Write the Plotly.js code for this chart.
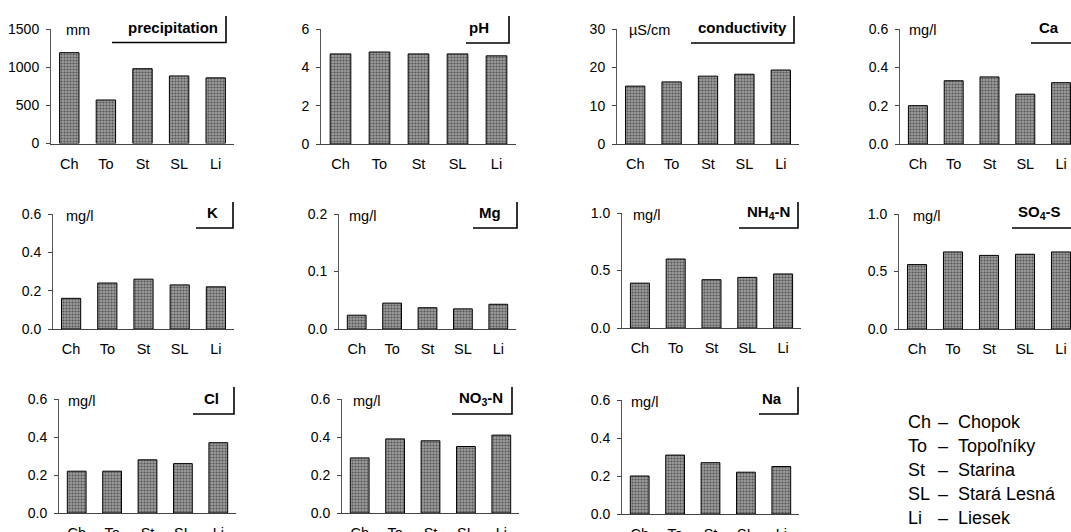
<!DOCTYPE html>
<html>
<head>
<meta charset="utf-8">
<script src="https://cdn.plot.ly/plotly-3.0.1.min.js"></script>
<style>
html, body { margin:0; padding:0; overflow:hidden; background:#fff; }
#wrap { width:1071px; height:532px; overflow:hidden; position:relative; }
#chart { width:1085px; height:545px; }
</style>
</head>
<body>
<div id="wrap"><div id="chart"></div></div>
<script>
// ---- data ----
const categories = ['Ch', 'To', 'St', 'SL', 'Li'];
const precipitation = [1190, 570, 980, 885, 860];
const pH = [4.7, 4.8, 4.7, 4.7, 4.6];
const conductivity = [15.1, 16.2, 17.7, 18.2, 19.3];
const Ca = [0.20, 0.33, 0.35, 0.26, 0.32];
const K = [0.16, 0.24, 0.26, 0.23, 0.22];
const Mg = [0.024, 0.045, 0.037, 0.035, 0.043];
const NH4N = [0.39, 0.60, 0.42, 0.44, 0.47];
const SO4S = [0.56, 0.67, 0.64, 0.65, 0.67];
const Cl = [0.22, 0.22, 0.28, 0.26, 0.37];
const NO3N = [0.29, 0.39, 0.38, 0.35, 0.41];
const Na = [0.20, 0.31, 0.27, 0.22, 0.25];
const seriesValues = [precipitation, pH, conductivity, Ca, K, Mg, NH4N, SO4S, Cl, NO3N, Na];
const panelTitles = ['precipitation', 'pH', 'conductivity', 'Ca', 'K', 'Mg', 'NH<sub>4</sub>-N', 'SO<sub>4</sub>-S', 'Cl', 'NO<sub>3</sub>-N', 'Na'];
const panelUnits = ['mm', '', 'µS/cm', 'mg/l', 'mg/l', 'mg/l', 'mg/l', 'mg/l', 'mg/l', 'mg/l', 'mg/l'];
const yTickValues = [
  [0, 500, 1000, 1500], [0, 2, 4, 6], [0, 10, 20, 30], [0, 0.2, 0.4, 0.6],
  [0, 0.2, 0.4, 0.6], [0, 0.1, 0.2], [0, 0.5, 1.0], [0, 0.5, 1.0],
  [0, 0.2, 0.4, 0.6], [0, 0.2, 0.4, 0.6], [0, 0.2, 0.4, 0.6]
];
const yTickFormats = ['d', 'd', 'd', '.1f', '.1f', '.1f', '.1f', '.1f', '.1f', '.1f', '.1f'];
const stationAbbr = ['Ch', 'To', 'St', 'SL', 'Li'];
const stationNames = ['Chopok', 'Topoľníky', 'Starina', 'Stará Lesná', 'Liesek'];

// ---- layout geometry (pixels) ----
const W = 1085, H = 545;
// [axisLeft, axisRight, topTickY, zeroY, unitShift, titleRight, bracketLeft, bracketX, bracketY, bracketTop, titleY]
const geom = [
  [51, 234, 29, 143.5, 13, 220, 112, 226, 42.5, 16, 27],
  [321, 516, 29, 144, 0, 491, 466, 509, 43, 16, 27.5],
  [617, 799, 29, 144, 10, 789, 691, 794, 43, 16, 27],
  [900, 1079, 29, 144, 7, 1061, 1031, 1076, 43, 16, 27.5],
  [53, 234, 214, 329, 11, 220, 196, 233, 228, 202, 212.5],
  [339, 516, 214, 329, 8, 503, 473, 517, 228, 202, 212.5],
  [622, 801, 213, 328, 9, 792, 739, 798, 228, 202, 212.5],
  [899, 1079, 214, 329, 12, 1063, 1012, 1076, 228, 202, 212.5],
  [59, 236, 399, 513, 7, 221, 193, 234, 414, 387, 398],
  [342, 519, 399, 513, 9, 505, 452, 512, 414, 387, 398.5],
  [622, 799, 400, 514, 7, 784, 759, 798, 414, 387, 398]
];
const FONT = 'Liberation Sans, Arial, sans-serif';
const px = v => v / W;
const py = v => 1 - v / H;

const traces = [];
const layout = {
  width: W, height: H,
  margin: {l: 0, r: 0, t: 0, b: 0},
  paper_bgcolor: '#ffffff', plot_bgcolor: 'rgba(0,0,0,0)',
  showlegend: false,
  bargap: 0.47,
  font: {family: FONT, color: '#000'},
  annotations: [], shapes: []
};

seriesValues.forEach((vals, i) => {
  const n = i + 1;
  const sx = n === 1 ? '' : String(n);
  const g = geom[i];
  traces.push({
    type: 'bar', x: categories, y: vals,
    xaxis: 'x' + sx, yaxis: 'y' + sx,
    marker: {
      color: '#8c8c8c',
      line: {color: '#000', width: 1},
      pattern: {shape: '.', fgcolor: '#555555', bgcolor: '#9c9c9c', size: 3, solidity: 0.4}
    },
    hoverinfo: 'x+y'
  });
  const ticks = yTickValues[i];
  layout['xaxis' + sx] = {
    domain: [px(g[0]), px(g[1])], anchor: 'y' + sx,
    type: 'category', range: [-0.5, 4.5],
    showline: true, linecolor: '#444', linewidth: 1,
    ticks: '', showgrid: false, zeroline: false,
    tickfont: {family: FONT, size: 14.5, color: '#000'},
    ticklabelstandoff: 7, fixedrange: true
  };
  layout['yaxis' + sx] = {
    domain: [py(g[3]), py(g[2])], anchor: 'x' + sx,
    range: [0, ticks[ticks.length - 1]],
    tickvals: ticks, tickformat: yTickFormats[i],
    showline: true, linecolor: '#555', linewidth: 1,
    ticks: 'outside', ticklen: 4, tickcolor: '#444', tickwidth: 1,
    showgrid: false, zeroline: false,
    tickfont: {family: FONT, size: 14, color: '#000'},
    ticklabelstandoff: 4, fixedrange: true
  };
  if (panelUnits[i]) {
    layout.annotations.push({
      xref: 'paper', yref: 'paper', x: px(g[0] + g[4]), y: py(g[2] + 1.5),
      xanchor: 'left', yanchor: 'middle', showarrow: false,
      text: panelUnits[i], font: {family: FONT, size: 14.5, color: '#000'}
    });
  }
  layout.annotations.push({
    xref: 'paper', yref: 'paper', x: px(g[5]), y: py(g[10]),
    xanchor: 'right', yanchor: 'middle', showarrow: false,
    text: '<b>' + panelTitles[i] + '</b>', font: {family: FONT, size: 15, color: '#000'}
  });
  layout.shapes.push({
    type: 'path', xref: 'paper', yref: 'paper',
    path: `M ${px(g[6])} ${py(g[8])} L ${px(g[7])} ${py(g[8])} L ${px(g[7])} ${py(g[9])}`,
    line: {color: '#000', width: 1.6}
  });
});

// station key
const keyY = [422, 446, 470, 494, 518];
stationAbbr.forEach((a, i) => {
  layout.annotations.push({
    xref: 'paper', yref: 'paper', x: px(906), y: py(keyY[i]),
    xanchor: 'left', yanchor: 'middle', showarrow: false,
    text: a, font: {family: FONT, size: 18, color: '#000'}
  });
  layout.annotations.push({
    xref: 'paper', yref: 'paper', x: px(936), y: py(keyY[i]),
    xanchor: 'left', yanchor: 'middle', showarrow: false,
    text: '–', font: {family: FONT, size: 18, color: '#000'}
  });
  layout.annotations.push({
    xref: 'paper', yref: 'paper', x: px(956), y: py(keyY[i]),
    xanchor: 'left', yanchor: 'middle', showarrow: false,
    text: stationNames[i], font: {family: FONT, size: 18, color: '#000'}
  });
});

Plotly.newPlot('chart', traces, layout, {displayModeBar: false, staticPlot: true});
</script>
</body>
</html>
